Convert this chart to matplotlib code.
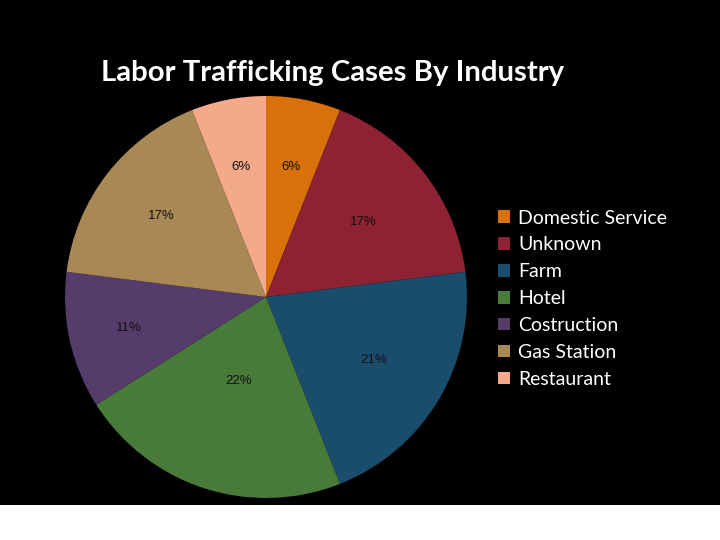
import matplotlib
matplotlib.use("Agg")
import matplotlib.pyplot as plt
import matplotlib.patches as patches
import numpy as np

# data
industries = ["Domestic Service", "Unknown", "Farm", "Hotel", "Costruction", "Gas Station", "Restaurant"]
shares = [6, 17, 21, 22, 11, 17, 6]
colors = ["#D9700A", "#8C2232", "#1A4C6C", "#487A3A", "#563C6A", "#A88855", "#F3A98A"]

# how far out each percentage label sits (fraction of radius), like the original
label_r = [0.66, 0.61, 0.62, 0.44, 0.70, 0.66, 0.66]

fig = plt.figure(figsize=(7.2, 5.4), dpi=100, facecolor="white")

# black slide area (white strip at the bottom)
fig.patches.append(patches.Rectangle((0, 35 / 540), 1, 1 - 35 / 540, transform=fig.transFigure,
                                     facecolor="black", edgecolor="none", zorder=-1))

# pie centred at about (266, 297) px, radius ~201 px
ax = fig.add_axes([(266 - 201) / 720, (540 - 297 - 201) / 540, 402 / 720, 402 / 540])
ax.set_facecolor("none")
wedges, texts, autotexts = ax.pie(shares, colors=colors, startangle=90, counterclock=False,
                                  autopct="%d%%", pctdistance=0.65,
                                  wedgeprops=dict(linewidth=0),
                                  textprops=dict(color="#111111", fontsize=9.5, family="Liberation Sans"))
# move labels along the wedge bisector
for w, t, r in zip(wedges, autotexts, label_r):
    mid = np.deg2rad((w.theta1 + w.theta2) / 2)
    t.set_position((r * np.cos(mid), r * np.sin(mid)))

ax.set_xlim(-1, 1)
ax.set_ylim(-1, 1)
ax.set_aspect("equal")
ax.axis("off")

fig.text(333 / 720, 1 - 73 / 540, "Labor Trafficking Cases By Industry", color="white",
         fontsize=21.2, fontweight="bold", family="Lato", ha="center", va="center")

handles = [patches.Patch(facecolor=c, edgecolor="none") for c in colors]
leg = fig.legend(handles, industries, loc="upper left", bbox_to_anchor=(481 / 720, 1 - 192 / 540),
                 frameon=False, labelcolor="white", handlelength=0.6, handleheight=0.6,
                 handletextpad=0.4, labelspacing=0.51, prop=dict(family="Lato", size=14))

fig.savefig("out.png", dpi=100, facecolor=fig.get_facecolor())
